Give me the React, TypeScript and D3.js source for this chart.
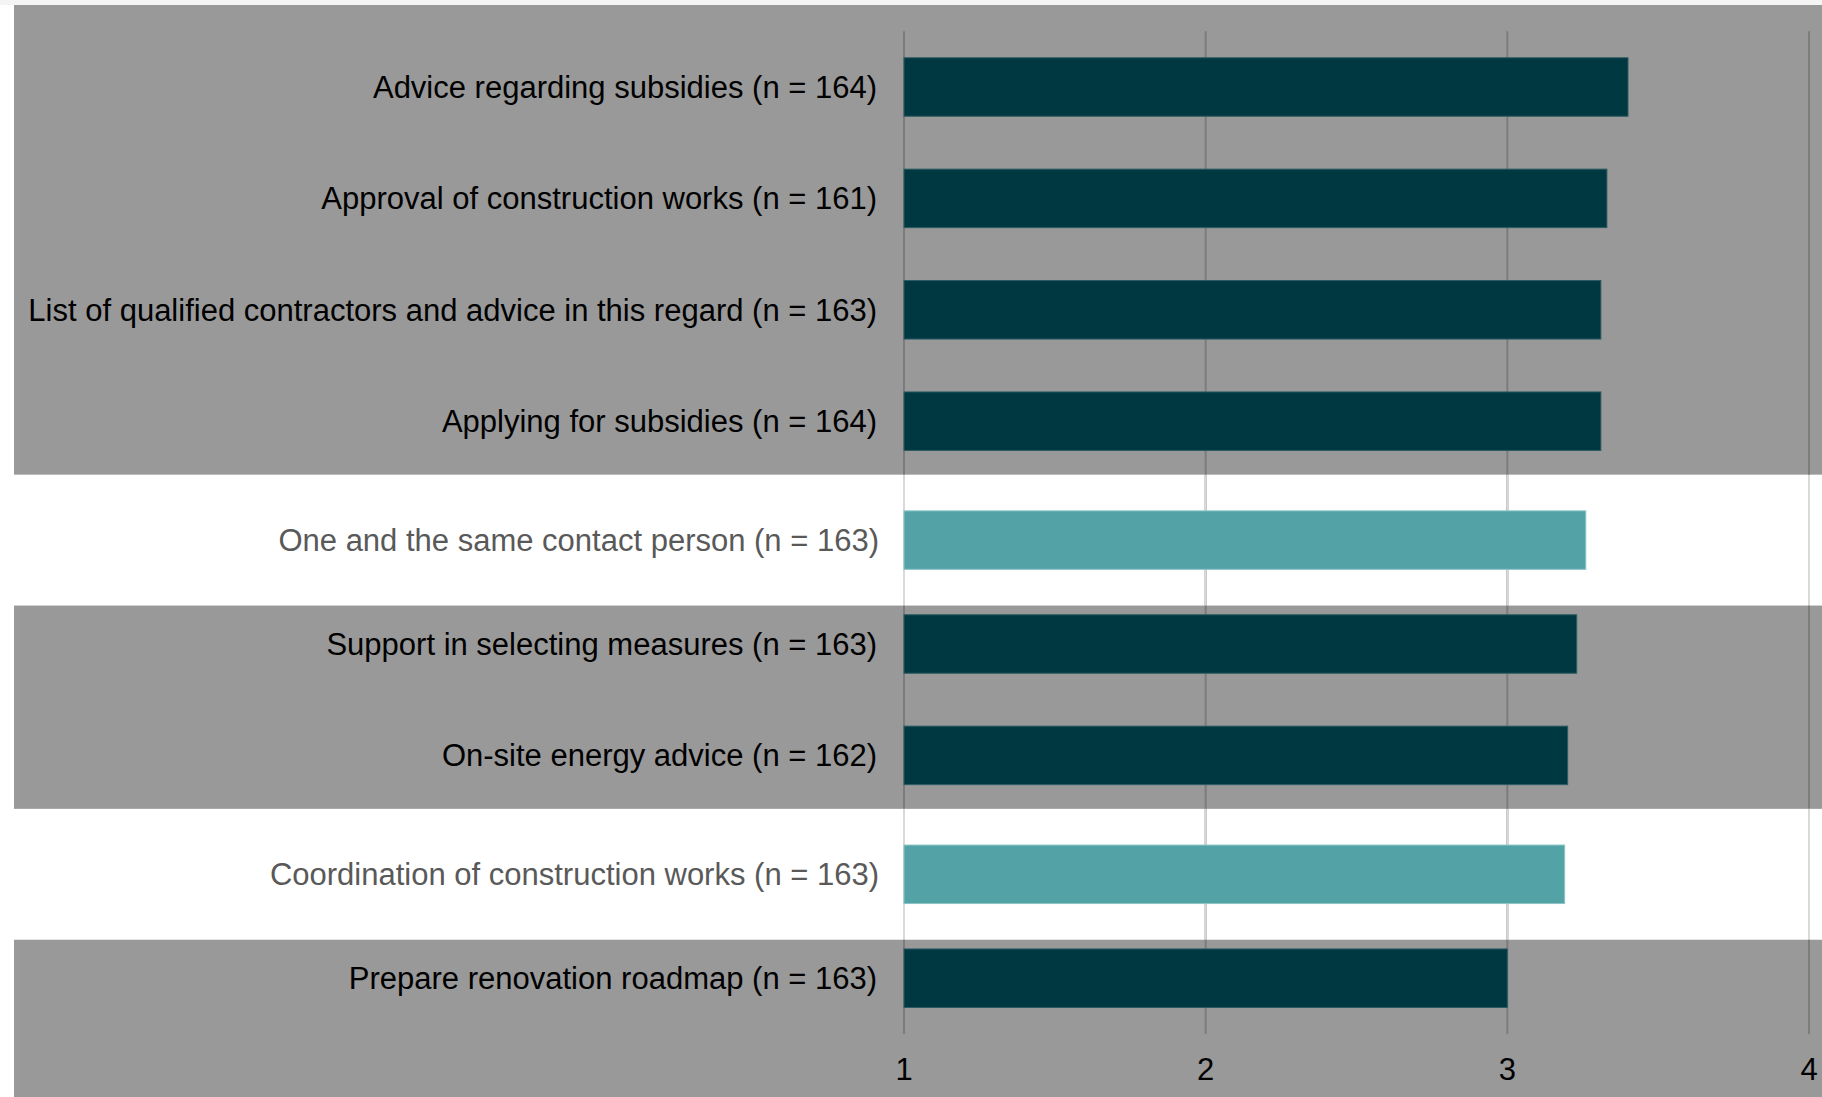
import React from "react";
import * as d3 from "d3";

const categories = [
  "Advice regarding subsidies (n = 164)",
  "Approval of construction works (n = 161)",
  "List of qualified contractors and advice in this regard (n = 163)",
  "Applying for subsidies (n = 164)",
  "One and the same contact person (n = 163)",
  "Support in selecting measures (n = 163)",
  "On-site energy advice (n = 162)",
  "Coordination of construction works (n = 163)",
  "Prepare renovation roadmap (n = 163)",
];
const values = [3.4, 3.33, 3.31, 3.31, 3.26, 3.23, 3.2, 3.19, 3.0];
const highlighted = [false, false, false, false, true, false, false, true, false];
const ticks = [1, 2, 3, 4];

const W = 1822;
const H = 1097;
const FONT = "'Liberation Sans', Arial, sans-serif";
const HIGHLIGHT_SHIFT = 7.5;

export default function App() {
  const x = d3.scaleLinear().domain([1, 4]).range([904, 1809]);
  const y = d3
    .scaleBand<string>()
    .domain(categories)
    .range([31.3, 1033.9])
    .paddingInner(0.475)
    .paddingOuter(0.2375);
  const step = y.step();
  const bw = y.bandwidth();
  const whiteH = step * 1.175;
  const [y0, y1] = y.range();
  const rowY = (c: string, i: number) => (y(c) as number) + (highlighted[i] ? HIGHLIGHT_SHIFT : 0);

  const whiteBands = categories
    .map((c, i) => ({ c, i }))
    .filter((d) => highlighted[d.i])
    .map((d) => {
      const cy = rowY(d.c, d.i) + bw / 2;
      return { top: cy - whiteH / 2, bottom: cy + whiteH / 2 };
    });

  return (
    <svg
      width={W}
      height={H}
      style={{ position: "absolute", left: 0, top: 0, display: "block" }}
      fontFamily={FONT}
    >
      <rect x={0} y={0} width={W} height={H} fill="#ffffff" />
      <rect x={0} y={0} width={W} height={5} fill="#f4f4f4" />
      <rect x={14} y={5} width={W - 14} height={H - 5} fill="#999999" />
      {whiteBands.map((b, i) => (
        <rect key={"wb" + i} x={14} y={b.top} width={W - 14} height={b.bottom - b.top} fill="#ffffff" />
      ))}
      {ticks.map((t) => (
        <line key={"g" + t} x1={x(t)} x2={x(t)} y1={y0} y2={y1} stroke="#7c7c7c" strokeWidth={2} />
      ))}
      {whiteBands.map((b, i) =>
        ticks.map((t) => (
          <line
            key={"gw" + i + "-" + t}
            x1={x(t)}
            x2={x(t)}
            y1={b.top}
            y2={b.bottom}
            stroke="#d9d9d9"
            strokeWidth={2}
          />
        ))
      )}
      {categories.map((c, i) => (
        <rect
          key={"b" + i}
          x={x(1)}
          y={rowY(c, i)}
          width={x(values[i]) - x(1)}
          height={bw}
          fill={highlighted[i] ? "#52a2a6" : "#003841"}
          stroke={highlighted[i] ? "#8cc4c6" : "#2b5c62"}
          strokeWidth={1}
        />
      ))}
      {categories.map((c, i) => (
        <text
          key={"l" + i}
          x={highlighted[i] ? 879 : 877}
          y={rowY(c, i) + bw / 2}
          dy="0.35em"
          textAnchor="end"
          fontSize={31}
          fill={highlighted[i] ? "#595959" : "#000000"}
        >
          {c}
        </text>
      ))}
      {ticks.map((t) => (
        <text key={"t" + t} x={x(t)} y={1069} dy="0.35em" textAnchor="middle" fontSize={31} fill="#000000">
          {t}
        </text>
      ))}
    </svg>
  );
}
